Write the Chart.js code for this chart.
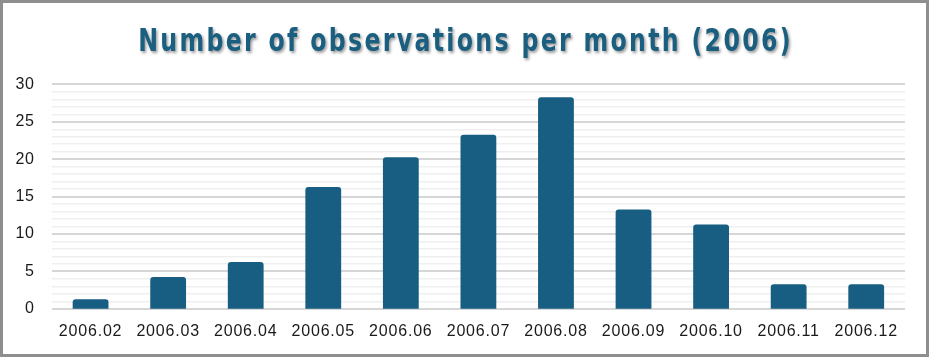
<!DOCTYPE html>
<html>
<head>
<meta charset="utf-8">
<script src="https://cdn.jsdelivr.net/npm/chart.js@4.4.1/dist/chart.umd.min.js"></script>
<style>
  html, body { margin: 0; padding: 0; background: #fff; }
  #wrap { width: 929px; height: 357px; position: relative; }
</style>
</head>
<body>
<div id="wrap"><canvas id="c" width="929" height="357"></canvas></div>
<script>
const categories = ["2006.02","2006.03","2006.04","2006.05","2006.06","2006.07","2006.08","2006.09","2006.10","2006.11","2006.12"];
const observations = [1, 4, 6, 16, 20, 23, 28, 13, 11, 3, 3];
const yTickLabels = [0, 5, 10, 15, 20, 25, 30];
const chartTitle = "Number of observations per month (2006)";

const BAR = '#175E82';

const framePlugin = {
  id: 'frame',
  beforeDraw(chart) {
    const ctx = chart.ctx;
    ctx.letterSpacing = '0.8px';
    const tb = chart.titleBlock;
    if (tb && !tb._styled) {
      tb._styled = true;
      const orig = tb.draw.bind(tb);
      tb.draw = function(area) {
        const boxCenter = (tb.left + tb.right) / 2;
        const target = chart.width / 2 + 1;
        ctx.save();
        ctx.translate(target, 0);
        ctx.scale(0.74, 1);
        ctx.translate(-boxCenter, 0);
        ctx.letterSpacing = '3.1px';
        ctx.shadowColor = 'rgba(0,0,0,0.4)';
        ctx.shadowBlur = 3;
        ctx.shadowOffsetX = 1.5;
        ctx.shadowOffsetY = 2;
        orig(area);
        ctx.restore();
      };
    }
  },
  afterDraw(chart) {
    const ctx = chart.ctx;
    ctx.save();
    ctx.letterSpacing = '0px';
    ctx.strokeStyle = '#8E8E8E';
    ctx.lineWidth = 3;
    ctx.strokeRect(1.5, 1.5, chart.width - 3, chart.height - 3);
    ctx.restore();
  }
};

new Chart(document.getElementById('c'), {
  type: 'bar',
  data: {
    labels: categories,
    datasets: [{
      data: observations,
      backgroundColor: BAR,
      borderWidth: 0,
      borderRadius: { topLeft: 3, topRight: 3, bottomLeft: 0, bottomRight: 0 },
      borderSkipped: 'start',
      inflateAmount: 2,
      barPercentage: 0.41,
      categoryPercentage: 1
    }]
  },
  options: {
    responsive: false,
    animation: false,
    layout: { padding: { left: 0, right: 24, top: 18, bottom: 3 } },
    plugins: {
      legend: { display: false },
      tooltip: { enabled: false },
      title: {
        display: true,
        text: chartTitle,
        color: '#1A5E80',
        font: { family: '"DejaVu Sans", sans-serif', size: 32, weight: 'bold' },
        padding: { top: 5, bottom: 23 }
      }
    },
    scales: {
      x: {
        grid: { display: false, drawTicks: false },
        border: { display: false },
        ticks: { color: '#1a1a1a', font: { family: '"Liberation Sans", Arial, sans-serif', size: 16 }, padding: 13, maxRotation: 0 }
      },
      y: {
        min: 0,
        max: 30,
        border: { display: false },
        grid: {
          drawTicks: false,
          color: (c) => (c.tick && c.tick.value % 5 === 0) ? '#D6D6D6' : '#EFEFEF',
          lineWidth: (c) => (c.tick && c.tick.value % 5 === 0) ? 2 : 1.5
        },
        ticks: {
          stepSize: 1,
          autoSkip: false,
          padding: 17,
          color: '#1a1a1a',
          font: { family: '"Liberation Sans", Arial, sans-serif', size: 16 },
          callback: (v) => yTickLabels.includes(v) ? String(v) : ''
        }
      }
    }
  },
  plugins: [framePlugin]
});
</script>
</body>
</html>
